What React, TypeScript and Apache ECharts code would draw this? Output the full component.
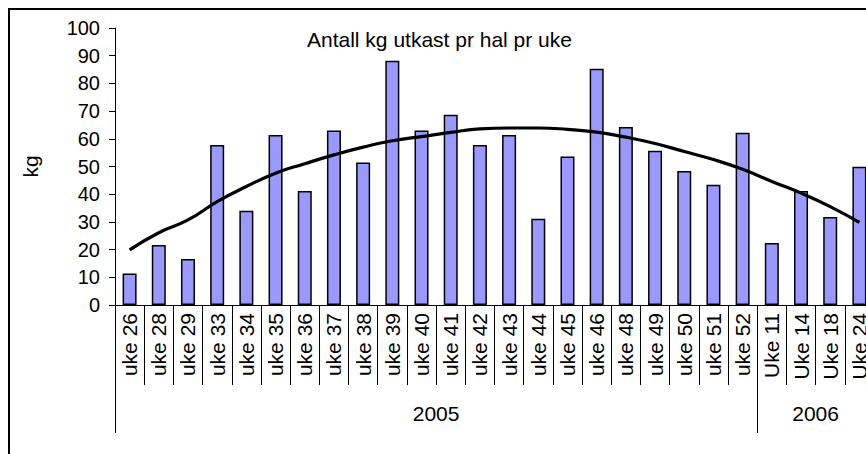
import React, { useEffect, useRef } from "react";
import * as echarts from "echarts";

const categories = [
  "uke 26", "uke 28", "uke 29", "uke 33", "uke 34", "uke 35", "uke 36", "uke 37",
  "uke 38", "uke 39", "uke 40", "uke 41", "uke 42", "uke 43", "uke 44", "uke 45",
  "uke 46", "uke 48", "uke 49", "uke 50", "uke 51", "uke 52",
  "Uke 11", "Uke 14", "Uke 18", "Uke 24",
];
const barValues = [
  11.4, 21.7, 16.6, 57.8, 34.0, 61.4, 41.2, 63.0, 51.4, 88.2, 63.0, 68.7,
  57.8, 61.4, 31.1, 53.6, 85.3, 64.3, 55.7, 48.4, 43.4, 62.2,
  22.4, 41.2, 31.8, 49.9,
];
const trendValues = [
  19.9, 26.1, 30.7, 37.3, 42.8, 47.6, 51.0, 54.2, 57.0, 59.3, 60.8, 62.3,
  63.6, 63.9, 63.9, 63.4, 62.4, 60.6, 58.3, 55.4, 52.5, 49.0,
  44.6, 40.4, 35.5, 29.8,
];
const years = ["2005", "2006"];
const yearSizes = [22, 4];
const yTicks = { min: 0, max: 100, interval: 10 };
const titleText = "Antall kg utkast pr hal pr uke";
const yName = "kg";

const FONT = "'Liberation Sans', Arial, sans-serif";

export default function App() {
  const ref = useRef<HTMLDivElement>(null);
  useEffect(() => {
    if (!ref.current) return;
    const chart = echarts.init(ref.current, null, { renderer: "svg" });

    const boundaries: number[] = [0];
    const centers: number[] = [];
    let acc = 0;
    yearSizes.forEach((s) => {
      centers.push(acc + s / 2);
      acc += s;
      boundaries.push(acc);
    });

    chart.setOption({
      animation: false,
      backgroundColor: "#fff",
      title: {
        text: titleText,
        left: 302,
        top: 24,
        textStyle: { fontFamily: FONT, fontSize: 21, fontWeight: "normal", color: "#000" },
      },
      graphic: [
        {
          type: "rect",
          shape: { x: 9, y: 9, width: 1200, height: 1200 },
          style: { fill: "none", stroke: "#000", lineWidth: 2 },
          silent: true,
          z: 100,
        },
      ],
      grid: { left: 115, top: 28, width: 759, height: 277 },
      xAxis: [
        {
          type: "category",
          data: categories,
          position: "bottom",
          axisLine: { show: true, lineStyle: { color: "#000", width: 1 } },
          axisTick: { show: true, interval: 0, length: 80, lineStyle: { color: "#000", width: 1 } },
          axisLabel: {
            interval: 0,
            rotate: 90,
            margin: 8,
            fontFamily: FONT,
            fontSize: 21,
            color: "#000",
          },
          splitLine: { show: false },
        },
        {
          type: "value",
          position: "bottom",
          min: 0,
          max: acc,
          axisLine: { show: false },
          axisTick: {
            show: true,
            customValues: boundaries,
            length: 128,
            lineStyle: { color: "#000", width: 1 },
          },
          axisLabel: {
            customValues: centers,
            margin: 98,
            fontFamily: FONT,
            fontSize: 21,
            color: "#000",
            formatter: (v: number) => {
              const i = centers.indexOf(v);
              return i >= 0 ? years[i] : "";
            },
          },
          splitLine: { show: false },
        },
      ],
      yAxis: {
        type: "value",
        min: yTicks.min,
        max: yTicks.max,
        interval: yTicks.interval,
        name: yName,
        nameLocation: "middle",
        nameGap: 74,
        nameRotate: 90,
        nameTextStyle: { fontFamily: FONT, fontSize: 21, color: "#000" },
        axisLine: { show: true, lineStyle: { color: "#000", width: 1 } },
        axisTick: { show: true, length: 6, lineStyle: { color: "#000" } },
        axisLabel: { fontFamily: FONT, fontSize: 20, color: "#000", margin: 15 },
        splitLine: { show: false },
      },
      series: [
        {
          type: "bar",
          data: barValues,
          barWidth: "48%",
          itemStyle: { color: "#9999FF", borderColor: "#000", borderWidth: 1.5 },
        },
        {
          type: "line",
          data: trendValues,
          smooth: true,
          symbol: "none",
          lineStyle: { color: "#000", width: 3.2 },
          z: 5,
        },
      ],
    });
    return () => chart.dispose();
  }, []);

  return (
    <div style={{ position: "absolute", left: 0, top: 0, width: 866, height: 454, overflow: "hidden", background: "#fff" }}>
      <div ref={ref} style={{ width: 900, height: 480 }} />
    </div>
  );
}
